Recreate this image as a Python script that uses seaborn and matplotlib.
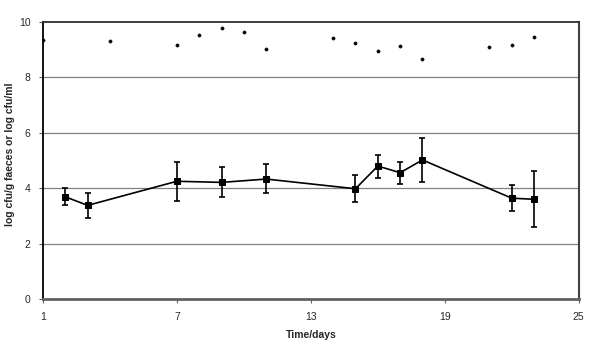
import matplotlib
matplotlib.use('Agg')
import matplotlib.pyplot as plt
import seaborn as sns
import pandas as pd

# upper series (dots)
dot_days = [1, 4, 7, 8, 9, 10, 11, 14, 15, 16, 17, 18, 21, 22, 23]
dot_vals = [9.35, 9.30, 9.17, 9.52, 9.78, 9.63, 9.01, 9.42, 9.25, 8.95, 9.12, 8.68, 9.09, 9.17, 9.46]

# lower series (mean with error bars)
mean_days = [2, 3, 7, 9, 11, 15, 16, 17, 18, 22, 23]
mean_vals = [3.69, 3.38, 4.25, 4.21, 4.33, 3.98, 4.80, 4.56, 5.02, 3.64, 3.60]
err_top = [4.02, 3.84, 4.96, 4.75, 4.86, 4.49, 5.21, 4.96, 5.80, 4.13, 4.61]
err_bot = [3.38, 2.92, 3.55, 3.68, 3.83, 3.49, 4.38, 4.16, 4.22, 3.17, 2.59]

dots = pd.DataFrame({'day': dot_days, 'val': dot_vals})
means = pd.DataFrame({'day': mean_days, 'val': mean_vals})

sns.set_style('white')
plt.rcParams['font.family'] = ['Liberation Sans', 'DejaVu Sans']

fig = plt.figure(figsize=(6, 3.56), dpi=100)
ax = fig.add_axes([43 / 600, 1 - 299 / 356, (578.7 - 43) / 600, (299 - 22) / 356])

for g in [2, 4, 6, 8]:
    ax.axhline(g, color='#808080', lw=0.9, zorder=0)

lo = [m - b for m, b in zip(mean_vals, err_bot)]
hi = [t - m for m, t in zip(mean_vals, err_top)]
ax.errorbar(mean_days, mean_vals, yerr=[lo, hi], fmt='none', ecolor='black',
            elinewidth=1.2, capsize=2.5, capthick=1.2, zorder=2)
sns.lineplot(data=means, x='day', y='val', ax=ax, color='black', lw=1.2,
             marker='s', markersize=5, markeredgecolor='black', zorder=3)
sns.scatterplot(data=dots, x='day', y='val', ax=ax, color='black', s=6,
                edgecolor='black', zorder=3)

ax.set_xlim(1, 25)
ax.set_ylim(0, 10)
ax.set_xticks([1, 7, 13, 19, 25])
ax.set_yticks([0, 2, 4, 6, 8, 10])
ax.tick_params(axis='both', labelsize=7.5, length=3, width=0.8, color='#606060',
               direction='out', pad=6, left=True, bottom=True)
ax.set_xlabel('Time/days', fontsize=7.5, fontweight='bold', labelpad=6)
ax.set_ylabel('log cfu/g faeces or log cfu/ml', fontsize=7.5, fontweight='bold')
ax.yaxis.set_label_coords(-0.053, 0.523)

ax.spines['left'].set_color('black')
ax.spines['left'].set_linewidth(1.3)
ax.spines['bottom'].set_color('#606060')
ax.spines['bottom'].set_linewidth(2)
ax.spines['top'].set_color('#303030')
ax.spines['top'].set_linewidth(1.3)
ax.spines['right'].set_color('#404040')
ax.spines['right'].set_linewidth(1.5)

fig.savefig('out.png', dpi=100)
